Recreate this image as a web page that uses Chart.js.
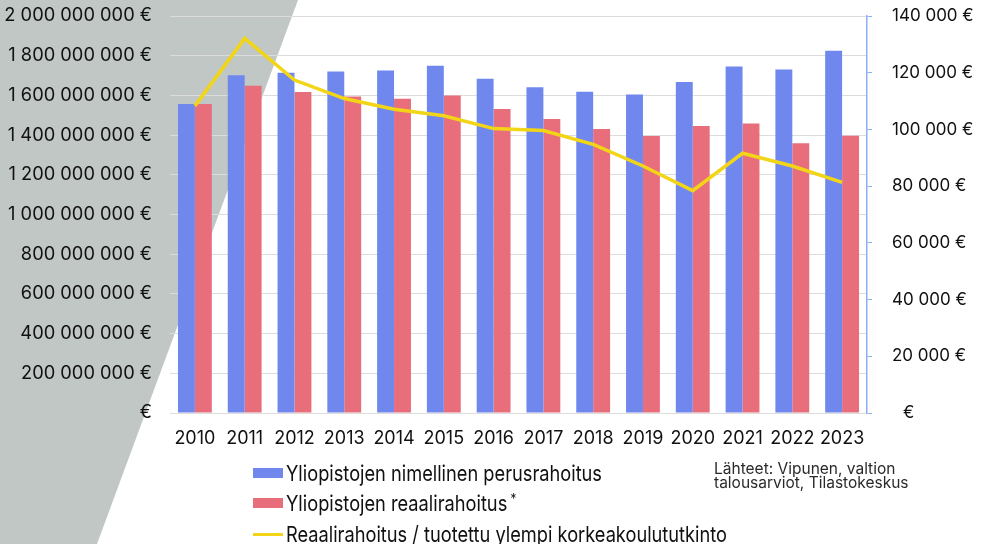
<!DOCTYPE html>
<html><head><meta charset="utf-8">
<script src="https://cdn.jsdelivr.net/npm/chart.js@4"></script>
<style>
html,body{margin:0;padding:0;background:#fff;}
#wrap{position:relative;width:982px;height:544px;overflow:hidden;}
#bg{position:absolute;left:0;top:0;width:982px;height:544px;background:#c0c7c4;clip-path:polygon(0 0,298px 0,97px 544px,0 544px);}
#cv{position:absolute;left:0;top:0;}
.leg{position:absolute;left:253px;height:26px;display:flex;align-items:center;font-family:Inter,"Noto Sans",sans-serif;font-size:22px;line-height:26px;color:#111;white-space:nowrap;}
.leg .sw{display:inline-block;width:30px;margin-right:3px;flex:none;}
.leg .tx{display:inline-block;transform-origin:0 50%;}
.leg sup{font-size:14px;position:relative;top:-4px;margin-left:4px;vertical-align:top;}
#src{position:absolute;left:714px;top:461.7px;font-family:Inter,"Noto Sans",sans-serif;font-size:15.5px;line-height:14px;color:#2a2a2a;white-space:nowrap;}
</style></head>
<body>
<div id="wrap">
<div id="bg"></div>
<canvas id="cv" width="982" height="544"></canvas>
<div class="leg" id="l1" style="top:460px"><span class="sw" style="height:10.5px;background:#7088ee"></span><span class="tx">Yliopistojen nimellinen perusrahoitus</span></div>
<div class="leg" style="top:490px"><span class="sw" style="height:10.5px;background:#e96e7c"></span><span class="tx">Yliopistojen reaalirahoitus<sup>*</sup></span></div>
<div class="leg" style="top:521px"><span class="sw" style="height:3px;background:#f2d517"></span><span class="tx">Reaalirahoitus / tuotettu ylempi korkeakoulututkinto</span></div>
<div id="src">Lähteet: Vipunen, valtion<br>talousarviot, Tilastokeskus</div>
</div>
<script>
const years = ['2010','2011','2012','2013','2014','2015','2016','2017','2018','2019','2020','2021','2022','2023'];
const nominalFunding = [1557e6,1701e6,1714e6,1721e6,1726e6,1750e6,1684e6,1641e6,1619e6,1604e6,1668e6,1745e6,1731e6,1825e6];
const realFunding = [1557e6,1649e6,1617e6,1594e6,1583e6,1599e6,1531e6,1481e6,1431e6,1395e6,1446e6,1458e6,1359e6,1397e6];
const realPerDegree = [108300,132100,117400,110900,107100,104800,100300,99600,94750,87100,78400,91600,87100,81300];
const seriesNames = ['Yliopistojen nimellinen perusrahoitus','Yliopistojen reaalirahoitus','Reaalirahoitus / tuotettu ylempi korkeakoulututkinto'];

function fmt(v){ return v.toString().replace(/\B(?=(\d{3})+(?!\d))/g,' '); }

// condensed legend text (reference legend is horizontally narrow)
(function(){
  const first = document.querySelector('#l1 .tx');
  const w = first.getBoundingClientRect().width;
  const s = w > 0 ? 316 / w : 0.83;
  document.querySelectorAll('.leg .tx').forEach(el => { el.style.transform = 'scaleX(' + s + ')'; });
})();

Chart.defaults.font.family = 'Inter, "Noto Sans", sans-serif';
Chart.defaults.font.size = 17;
Chart.defaults.color = '#111';

new Chart(document.getElementById('cv'), {
  type: 'bar',
  data: {
    labels: years,
    datasets: [
      {type:'line', label: seriesNames[2], data: realPerDegree, yAxisID:'y1', borderColor:'#f2d517', backgroundColor:'#f2d517', borderWidth:3.5, pointRadius:0, tension:0, order:0},
      {label: seriesNames[0], data: nominalFunding, yAxisID:'y', backgroundColor:'#7088ee', order:1},
      {label: seriesNames[1], data: realFunding, yAxisID:'y', backgroundColor:'#e96e7c', order:1}
    ]
  },
  options: {
    responsive:false, animation:false,
    layout:{padding:{top:16,left:0,right:0,bottom:0}},
    datasets:{bar:{categoryPercentage:0.68, barPercentage:1}},
    plugins:{legend:{display:false}, tooltip:{enabled:false}},
    scales:{
      x:{
        grid:{display:false},
        border:{display:true,color:'#dcdcdc',width:1},
        ticks:{padding:7,maxRotation:0,autoSkip:false,font:{size:18}},
        afterFit:(s)=>{s.height=131;}
      },
      y:{
        position:'left', min:0, max:2000000000,
        ticks:{stepSize:200000000, padding:18, font:{size:18.3}, callback:(v)=> v===0 ? '€' : fmt(v)+' €'},
        grid:{color:'#dcdcdc', drawTicks:false},
        border:{display:false},
        afterFit:(s)=>{s.width=170; s.paddingTop=0; s.paddingBottom=0;}
      },
      y1:{
        position:'right', min:0, max:140000,
        ticks:{stepSize:20000, padding:20, callback:(v)=> v===0 ? '\u2007€' : fmt(v)+' €'},
        grid:{drawOnChartArea:false, color:'#8ab0f5', tickLength:5},
        border:{display:true,color:'#8ab0f5',width:1.5},
        afterFit:(s)=>{s.width=115; s.paddingTop=0; s.paddingBottom=0;}
      }
    }
  }
});
</script>
</body></html>
